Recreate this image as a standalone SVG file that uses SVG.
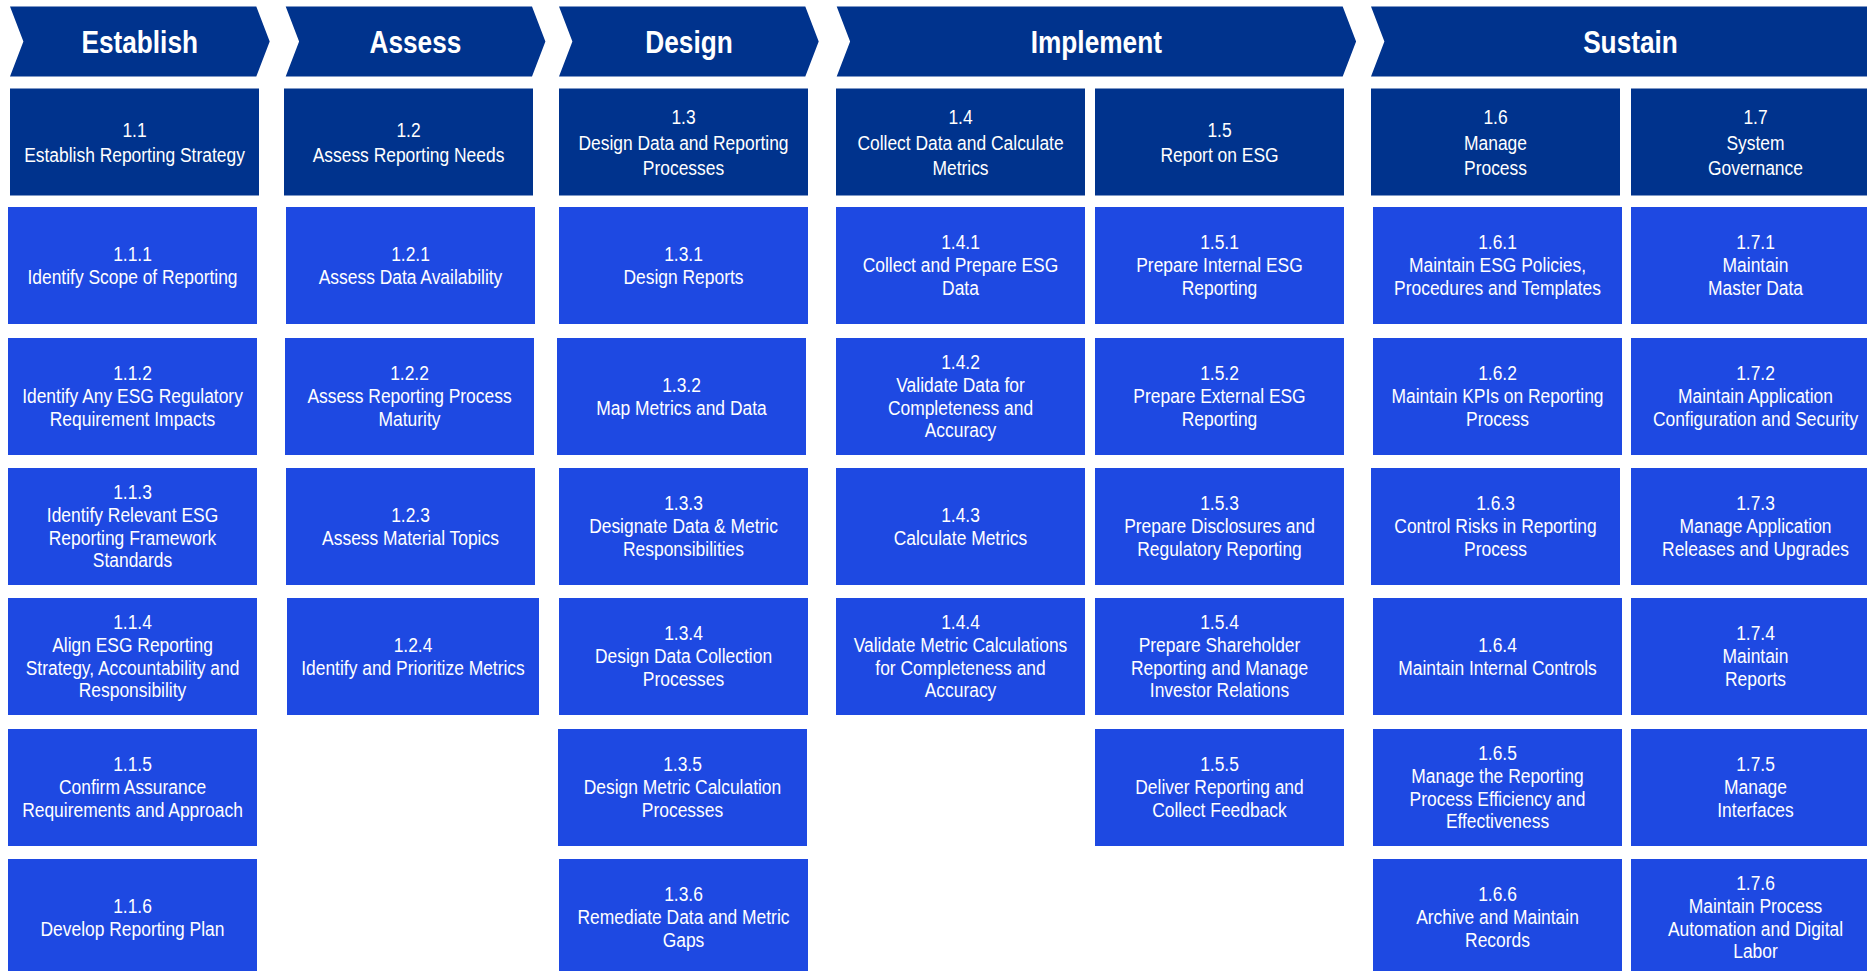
<svg xmlns="http://www.w3.org/2000/svg" width="1867" height="971" viewBox="0 0 1867 971">
<style>
.ph{fill:#00338D}
.hdr{fill:#00338D}
.sub{fill:#1E49E2}
.ttl{font-family:"Liberation Sans",Arial,sans-serif;font-size:32px;font-weight:bold;fill:#fff;text-anchor:middle}
.lbl{font-family:"Liberation Sans",Arial,sans-serif;font-size:21px;fill:#fff;text-anchor:middle}
</style>
<rect x="0" y="0" width="1867" height="971" fill="#fff"/>
<g id="phases">
<g id="ph-establish"><polygon class="ph" points="10,6.5 256.3,6.5 269.7,41.5 256.3,76.5 10,76.5 23.4,41.5"/><text class="ttl" transform="translate(139.7 52.8) scale(0.82 1)">Establish</text></g>
<g id="ph-assess"><polygon class="ph" points="285.7,6.5 532,6.5 545.4,41.5 532,76.5 285.7,76.5 299.1,41.5"/><text class="ttl" transform="translate(415.4 52.8) scale(0.82 1)">Assess</text></g>
<g id="ph-design"><polygon class="ph" points="559,6.5 805.3,6.5 818.7,41.5 805.3,76.5 559,76.5 572.4,41.5"/><text class="ttl" transform="translate(689 52.8) scale(0.82 1)">Design</text></g>
<g id="ph-implement"><polygon class="ph" points="836.7,6.5 1342.7,6.5 1356.1,41.5 1342.7,76.5 836.7,76.5 850.1,41.5"/><text class="ttl" transform="translate(1096.3 52.8) scale(0.82 1)">Implement</text></g>
<g id="ph-sustain"><polygon class="ph" points="1371,6.5 1877,6.5 1890.4,41.5 1877,76.5 1371,76.5 1384.4,41.5"/><text class="ttl" transform="translate(1630.5 52.8) scale(0.82 1)">Sustain</text></g>
</g>
<g id="connectors"></g>

<g id="n1-1" transform="translate(134.5 142)"><rect class="hdr" x="-124.5" y="-53.5" width="249" height="107"/><text class="lbl" transform="scale(0.83 1)"><tspan x="0" y="-5">1.1</tspan><tspan x="0" y="20.3">Establish Reporting Strategy</tspan></text></g>
<g id="n1-2" transform="translate(408.5 142)"><rect class="hdr" x="-124.5" y="-53.5" width="249" height="107"/><text class="lbl" transform="scale(0.83 1)"><tspan x="0" y="-5">1.2</tspan><tspan x="0" y="20.3">Assess Reporting Needs</tspan></text></g>
<g id="n1-3" transform="translate(683.5 142)"><rect class="hdr" x="-124.5" y="-53.5" width="249" height="107"/><text class="lbl" transform="scale(0.83 1)"><tspan x="0" y="-17.8">1.3</tspan><tspan x="0" y="7.5">Design Data and Reporting</tspan><tspan x="0" y="32.8">Processes</tspan></text></g>
<g id="n1-4" transform="translate(960.5 142)"><rect class="hdr" x="-124.5" y="-53.5" width="249" height="107"/><text class="lbl" transform="scale(0.83 1)"><tspan x="0" y="-17.8">1.4</tspan><tspan x="0" y="7.5">Collect Data and Calculate</tspan><tspan x="0" y="32.8">Metrics</tspan></text></g>
<g id="n1-5" transform="translate(1219.5 142)"><rect class="hdr" x="-124.5" y="-53.5" width="249" height="107"/><text class="lbl" transform="scale(0.83 1)"><tspan x="0" y="-5">1.5</tspan><tspan x="0" y="20.3">Report on ESG</tspan></text></g>
<g id="n1-6" transform="translate(1495.5 142)"><rect class="hdr" x="-124.5" y="-53.5" width="249" height="107"/><text class="lbl" transform="scale(0.83 1)"><tspan x="0" y="-17.8">1.6</tspan><tspan x="0" y="7.5">Manage</tspan><tspan x="0" y="32.8">Process</tspan></text></g>
<g id="n1-7" transform="translate(1755.5 142)"><rect class="hdr" x="-124.5" y="-53.5" width="249" height="107"/><text class="lbl" transform="scale(0.83 1)"><tspan x="0" y="-17.8">1.7</tspan><tspan x="0" y="7.5">System</tspan><tspan x="0" y="32.8">Governance</tspan></text></g>

<g id="n1-1-1" transform="translate(132.5 265.5)"><rect class="sub" x="-124.5" y="-58.5" width="249" height="117"/><text class="lbl" transform="scale(0.83 1)"><tspan x="0" y="-5">1.1.1</tspan><tspan x="0" y="18">Identify Scope of Reporting</tspan></text></g>
<g id="n1-1-2" transform="translate(132.5 396.5)"><rect class="sub" x="-124.5" y="-58.5" width="249" height="117"/><text class="lbl" transform="scale(0.83 1)"><tspan x="0" y="-16.5">1.1.2</tspan><tspan x="0" y="6.5">Identify Any ESG Regulatory</tspan><tspan x="0" y="29.5">Requirement Impacts</tspan></text></g>
<g id="n1-1-3" transform="translate(132.5 526.5)"><rect class="sub" x="-124.5" y="-58.5" width="249" height="117"/><text class="lbl" transform="scale(0.83 1)"><tspan x="0" y="-28">1.1.3</tspan><tspan x="0" y="-5">Identify Relevant ESG</tspan><tspan x="0" y="18">Reporting Framework</tspan><tspan x="0" y="41">Standards</tspan></text></g>
<g id="n1-1-4" transform="translate(132.5 656.5)"><rect class="sub" x="-124.5" y="-58.5" width="249" height="117"/><text class="lbl" transform="scale(0.83 1)"><tspan x="0" y="-28">1.1.4</tspan><tspan x="0" y="-5">Align ESG Reporting</tspan><tspan x="0" y="18">Strategy, Accountability and</tspan><tspan x="0" y="41">Responsibility</tspan></text></g>
<g id="n1-1-5" transform="translate(132.5 787.5)"><rect class="sub" x="-124.5" y="-58.5" width="249" height="117"/><text class="lbl" transform="scale(0.83 1)"><tspan x="0" y="-16.5">1.1.5</tspan><tspan x="0" y="6.5">Confirm Assurance</tspan><tspan x="0" y="29.5">Requirements and Approach</tspan></text></g>
<g id="n1-1-6" transform="translate(132.5 917.5)"><rect class="sub" x="-124.5" y="-58.5" width="249" height="117"/><text class="lbl" transform="scale(0.83 1)"><tspan x="0" y="-5">1.1.6</tspan><tspan x="0" y="18">Develop Reporting Plan</tspan></text></g>

<g id="n1-2-1" transform="translate(410.5 265.5)"><rect class="sub" x="-124.5" y="-58.5" width="249" height="117"/><text class="lbl" transform="scale(0.83 1)"><tspan x="0" y="-5">1.2.1</tspan><tspan x="0" y="18">Assess Data Availability</tspan></text></g>
<g id="n1-2-2" transform="translate(409.5 396.5)"><rect class="sub" x="-124.5" y="-58.5" width="249" height="117"/><text class="lbl" transform="scale(0.83 1)"><tspan x="0" y="-16.5">1.2.2</tspan><tspan x="0" y="6.5">Assess Reporting Process</tspan><tspan x="0" y="29.5">Maturity</tspan></text></g>
<g id="n1-2-3" transform="translate(410.5 526.5)"><rect class="sub" x="-124.5" y="-58.5" width="249" height="117"/><text class="lbl" transform="scale(0.83 1)"><tspan x="0" y="-5">1.2.3</tspan><tspan x="0" y="18">Assess Material Topics</tspan></text></g>
<g id="n1-2-4" transform="translate(413 656.5)"><rect class="sub" x="-126" y="-58.5" width="252" height="117"/><text class="lbl" transform="scale(0.83 1)"><tspan x="0" y="-5">1.2.4</tspan><tspan x="0" y="18">Identify and Prioritize Metrics</tspan></text></g>

<g id="n1-3-1" transform="translate(683.5 265.5)"><rect class="sub" x="-124.5" y="-58.5" width="249" height="117"/><text class="lbl" transform="scale(0.83 1)"><tspan x="0" y="-5">1.3.1</tspan><tspan x="0" y="18">Design Reports</tspan></text></g>
<g id="n1-3-2" transform="translate(681.5 396.5)"><rect class="sub" x="-124.5" y="-58.5" width="249" height="117"/><text class="lbl" transform="scale(0.83 1)"><tspan x="0" y="-5">1.3.2</tspan><tspan x="0" y="18">Map Metrics and Data</tspan></text></g>
<g id="n1-3-3" transform="translate(683.5 526.5)"><rect class="sub" x="-124.5" y="-58.5" width="249" height="117"/><text class="lbl" transform="scale(0.83 1)"><tspan x="0" y="-16.5">1.3.3</tspan><tspan x="0" y="6.5">Designate Data &amp; Metric</tspan><tspan x="0" y="29.5">Responsibilities</tspan></text></g>
<g id="n1-3-4" transform="translate(683.5 656.5)"><rect class="sub" x="-124.5" y="-58.5" width="249" height="117"/><text class="lbl" transform="scale(0.83 1)"><tspan x="0" y="-16.5">1.3.4</tspan><tspan x="0" y="6.5">Design Data Collection</tspan><tspan x="0" y="29.5">Processes</tspan></text></g>
<g id="n1-3-5" transform="translate(682.5 787.5)"><rect class="sub" x="-124.5" y="-58.5" width="249" height="117"/><text class="lbl" transform="scale(0.83 1)"><tspan x="0" y="-16.5">1.3.5</tspan><tspan x="0" y="6.5">Design Metric Calculation</tspan><tspan x="0" y="29.5">Processes</tspan></text></g>
<g id="n1-3-6" transform="translate(683.5 917.5)"><rect class="sub" x="-124.5" y="-58.5" width="249" height="117"/><text class="lbl" transform="scale(0.83 1)"><tspan x="0" y="-16.5">1.3.6</tspan><tspan x="0" y="6.5">Remediate Data and Metric</tspan><tspan x="0" y="29.5">Gaps</tspan></text></g>

<g id="n1-4-1" transform="translate(960.5 265.5)"><rect class="sub" x="-124.5" y="-58.5" width="249" height="117"/><text class="lbl" transform="scale(0.83 1)"><tspan x="0" y="-16.5">1.4.1</tspan><tspan x="0" y="6.5">Collect and Prepare ESG</tspan><tspan x="0" y="29.5">Data</tspan></text></g>
<g id="n1-4-2" transform="translate(960.5 396.5)"><rect class="sub" x="-124.5" y="-58.5" width="249" height="117"/><text class="lbl" transform="scale(0.83 1)"><tspan x="0" y="-28">1.4.2</tspan><tspan x="0" y="-5">Validate Data for</tspan><tspan x="0" y="18">Completeness and</tspan><tspan x="0" y="41">Accuracy</tspan></text></g>
<g id="n1-4-3" transform="translate(960.5 526.5)"><rect class="sub" x="-124.5" y="-58.5" width="249" height="117"/><text class="lbl" transform="scale(0.83 1)"><tspan x="0" y="-5">1.4.3</tspan><tspan x="0" y="18">Calculate Metrics</tspan></text></g>
<g id="n1-4-4" transform="translate(960.5 656.5)"><rect class="sub" x="-124.5" y="-58.5" width="249" height="117"/><text class="lbl" transform="scale(0.83 1)"><tspan x="0" y="-28">1.4.4</tspan><tspan x="0" y="-5">Validate Metric Calculations</tspan><tspan x="0" y="18">for Completeness and</tspan><tspan x="0" y="41">Accuracy</tspan></text></g>

<g id="n1-5-1" transform="translate(1219.5 265.5)"><rect class="sub" x="-124.5" y="-58.5" width="249" height="117"/><text class="lbl" transform="scale(0.83 1)"><tspan x="0" y="-16.5">1.5.1</tspan><tspan x="0" y="6.5">Prepare Internal ESG</tspan><tspan x="0" y="29.5">Reporting</tspan></text></g>
<g id="n1-5-2" transform="translate(1219.5 396.5)"><rect class="sub" x="-124.5" y="-58.5" width="249" height="117"/><text class="lbl" transform="scale(0.83 1)"><tspan x="0" y="-16.5">1.5.2</tspan><tspan x="0" y="6.5">Prepare External ESG</tspan><tspan x="0" y="29.5">Reporting</tspan></text></g>
<g id="n1-5-3" transform="translate(1219.5 526.5)"><rect class="sub" x="-124.5" y="-58.5" width="249" height="117"/><text class="lbl" transform="scale(0.83 1)"><tspan x="0" y="-16.5">1.5.3</tspan><tspan x="0" y="6.5">Prepare Disclosures and</tspan><tspan x="0" y="29.5">Regulatory Reporting</tspan></text></g>
<g id="n1-5-4" transform="translate(1219.5 656.5)"><rect class="sub" x="-124.5" y="-58.5" width="249" height="117"/><text class="lbl" transform="scale(0.83 1)"><tspan x="0" y="-28">1.5.4</tspan><tspan x="0" y="-5">Prepare Shareholder</tspan><tspan x="0" y="18">Reporting and Manage</tspan><tspan x="0" y="41">Investor Relations</tspan></text></g>
<g id="n1-5-5" transform="translate(1219.5 787.5)"><rect class="sub" x="-124.5" y="-58.5" width="249" height="117"/><text class="lbl" transform="scale(0.83 1)"><tspan x="0" y="-16.5">1.5.5</tspan><tspan x="0" y="6.5">Deliver Reporting and</tspan><tspan x="0" y="29.5">Collect Feedback</tspan></text></g>

<g id="n1-6-1" transform="translate(1497.5 265.5)"><rect class="sub" x="-124.5" y="-58.5" width="249" height="117"/><text class="lbl" transform="scale(0.83 1)"><tspan x="0" y="-16.5">1.6.1</tspan><tspan x="0" y="6.5">Maintain ESG Policies,</tspan><tspan x="0" y="29.5">Procedures and Templates</tspan></text></g>
<g id="n1-6-2" transform="translate(1497.5 396.5)"><rect class="sub" x="-124.5" y="-58.5" width="249" height="117"/><text class="lbl" transform="scale(0.83 1)"><tspan x="0" y="-16.5">1.6.2</tspan><tspan x="0" y="6.5">Maintain KPIs on Reporting</tspan><tspan x="0" y="29.5">Process</tspan></text></g>
<g id="n1-6-3" transform="translate(1495.5 526.5)"><rect class="sub" x="-124.5" y="-58.5" width="249" height="117"/><text class="lbl" transform="scale(0.83 1)"><tspan x="0" y="-16.5">1.6.3</tspan><tspan x="0" y="6.5">Control Risks in Reporting</tspan><tspan x="0" y="29.5">Process</tspan></text></g>
<g id="n1-6-4" transform="translate(1497.5 656.5)"><rect class="sub" x="-124.5" y="-58.5" width="249" height="117"/><text class="lbl" transform="scale(0.83 1)"><tspan x="0" y="-5">1.6.4</tspan><tspan x="0" y="18">Maintain Internal Controls</tspan></text></g>
<g id="n1-6-5" transform="translate(1497.5 787.5)"><rect class="sub" x="-124.5" y="-58.5" width="249" height="117"/><text class="lbl" transform="scale(0.83 1)"><tspan x="0" y="-28">1.6.5</tspan><tspan x="0" y="-5">Manage the Reporting</tspan><tspan x="0" y="18">Process Efficiency and</tspan><tspan x="0" y="41">Effectiveness</tspan></text></g>
<g id="n1-6-6" transform="translate(1497.5 917.5)"><rect class="sub" x="-124.5" y="-58.5" width="249" height="117"/><text class="lbl" transform="scale(0.83 1)"><tspan x="0" y="-16.5">1.6.6</tspan><tspan x="0" y="6.5">Archive and Maintain</tspan><tspan x="0" y="29.5">Records</tspan></text></g>

<g id="n1-7-1" transform="translate(1755.5 265.5)"><rect class="sub" x="-124.5" y="-58.5" width="249" height="117"/><text class="lbl" transform="scale(0.83 1)"><tspan x="0" y="-16.5">1.7.1</tspan><tspan x="0" y="6.5">Maintain</tspan><tspan x="0" y="29.5">Master Data</tspan></text></g>
<g id="n1-7-2" transform="translate(1755.5 396.5)"><rect class="sub" x="-124.5" y="-58.5" width="249" height="117"/><text class="lbl" transform="scale(0.83 1)"><tspan x="0" y="-16.5">1.7.2</tspan><tspan x="0" y="6.5">Maintain Application</tspan><tspan x="0" y="29.5">Configuration and Security</tspan></text></g>
<g id="n1-7-3" transform="translate(1755.5 526.5)"><rect class="sub" x="-124.5" y="-58.5" width="249" height="117"/><text class="lbl" transform="scale(0.83 1)"><tspan x="0" y="-16.5">1.7.3</tspan><tspan x="0" y="6.5">Manage Application</tspan><tspan x="0" y="29.5">Releases and Upgrades</tspan></text></g>
<g id="n1-7-4" transform="translate(1755.5 656.5)"><rect class="sub" x="-124.5" y="-58.5" width="249" height="117"/><text class="lbl" transform="scale(0.83 1)"><tspan x="0" y="-16.5">1.7.4</tspan><tspan x="0" y="6.5">Maintain</tspan><tspan x="0" y="29.5">Reports</tspan></text></g>
<g id="n1-7-5" transform="translate(1755.5 787.5)"><rect class="sub" x="-124.5" y="-58.5" width="249" height="117"/><text class="lbl" transform="scale(0.83 1)"><tspan x="0" y="-16.5">1.7.5</tspan><tspan x="0" y="6.5">Manage</tspan><tspan x="0" y="29.5">Interfaces</tspan></text></g>
<g id="n1-7-6" transform="translate(1755.5 917.5)"><rect class="sub" x="-124.5" y="-58.5" width="249" height="117"/><text class="lbl" transform="scale(0.83 1)"><tspan x="0" y="-28">1.7.6</tspan><tspan x="0" y="-5">Maintain Process</tspan><tspan x="0" y="18">Automation and Digital</tspan><tspan x="0" y="41">Labor</tspan></text></g>
</svg>
